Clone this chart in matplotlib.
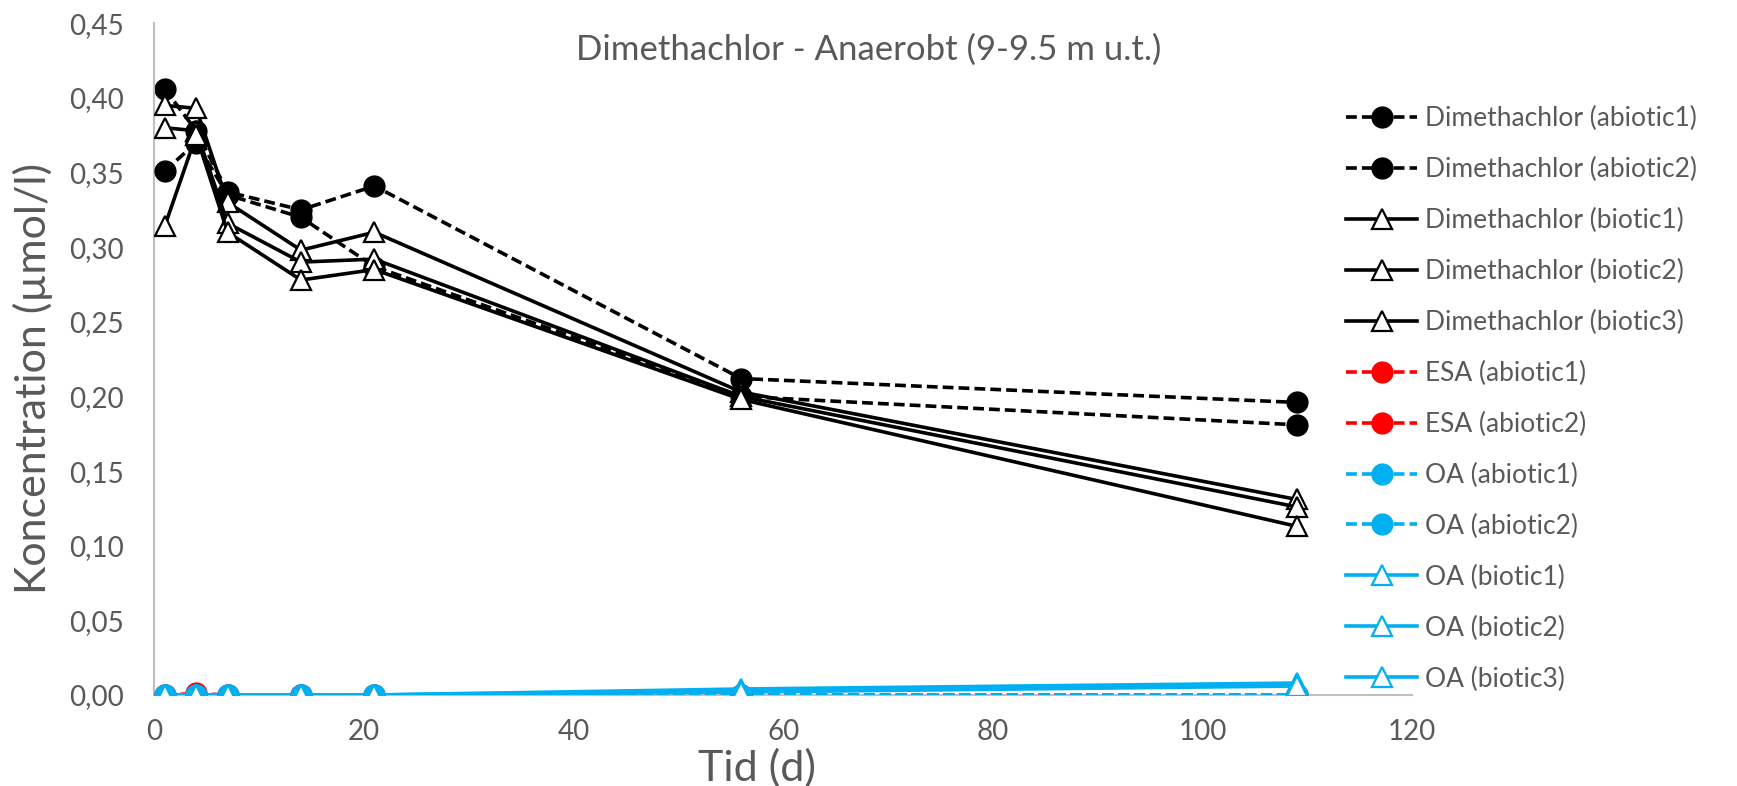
import matplotlib
matplotlib.use("Agg")
import matplotlib.pyplot as plt

# sampling days
days = [1, 4, 7, 14, 21, 56, 109]

# concentrations (umol/l)
dim_abiotic1 = [0.406, 0.378, 0.337, 0.325, 0.341, 0.212, 0.196]
dim_abiotic2 = [0.351, 0.370, 0.335, 0.320, 0.287, 0.200, 0.181]
dim_biotic1 = [0.395, 0.393, 0.330, 0.298, 0.310, 0.203, 0.131]
dim_biotic2 = [0.380, 0.378, 0.316, 0.290, 0.292, 0.200, 0.126]
dim_biotic3 = [0.314, 0.375, 0.310, 0.278, 0.285, 0.198, 0.113]
esa_abiotic1 = [0.0, 0.001, 0.0, 0.0, 0.0, 0.0, 0.0]
esa_abiotic2 = [0.0, 0.0, 0.0, 0.0, 0.0, 0.0, 0.0]
oa_abiotic1 = [0.0, 0.0, 0.0, 0.0, 0.0, 0.0, 0.0]
oa_abiotic2 = [0.0, 0.0, 0.0, 0.0, 0.0, 0.0, 0.0]
oa_biotic1 = [0.0, 0.0, 0.0, 0.0, 0.0, 0.004, 0.008]
oa_biotic2 = [0.0, 0.0, 0.0, 0.0, 0.0, 0.003, 0.007]
oa_biotic3 = [0.0, 0.0, 0.0, 0.0, 0.0, 0.002, 0.006]

series = [
    ("Dimethachlor (abiotic1)", dim_abiotic1, "black", "abiotic"),
    ("Dimethachlor (abiotic2)", dim_abiotic2, "black", "abiotic"),
    ("Dimethachlor (biotic1)", dim_biotic1, "black", "biotic"),
    ("Dimethachlor (biotic2)", dim_biotic2, "black", "biotic"),
    ("Dimethachlor (biotic3)", dim_biotic3, "black", "biotic"),
    ("ESA (abiotic1)", esa_abiotic1, "#FF0000", "abiotic"),
    ("ESA (abiotic2)", esa_abiotic2, "#FF0000", "abiotic"),
    ("OA (abiotic1)", oa_abiotic1, "#00B0F0", "abiotic"),
    ("OA (abiotic2)", oa_abiotic2, "#00B0F0", "abiotic"),
    ("OA (biotic1)", oa_biotic1, "#00B0F0", "biotic"),
    ("OA (biotic2)", oa_biotic2, "#00B0F0", "biotic"),
    ("OA (biotic3)", oa_biotic3, "#00B0F0", "biotic"),
]

plt.rcParams['font.family'] = ['Lato', 'DejaVu Sans']
grey = "#595959"

fig = plt.figure(figsize=(17.37, 7.86), dpi=100)
ax = fig.add_axes([0.0888, 0.1158, 0.7241, 0.8546])

for i, (name, vals, col, kind) in enumerate(series):
    if kind == "abiotic":
        ax.plot(days, vals, color=col, lw=2.6, dashes=(3.0, 1.4),
                marker='o', markersize=15, markerfacecolor=col,
                markeredgecolor=col, label=name, zorder=2 + i)
    else:
        ax.plot(days, vals, color=col, lw=2.6, marker='^', markersize=14,
                markerfacecolor='white', markeredgecolor=col,
                markeredgewidth=1.6, label=name, zorder=2 + i)

ax.set_xlim(0, 120)
ax.set_ylim(0, 0.45)
ax.set_xticks(range(0, 121, 20))
ax.set_yticks([i * 0.05 for i in range(10)])
ax.set_yticklabels([("%.2f" % (i * 0.05)).replace(".", ",") for i in range(10)])
ax.tick_params(length=0, labelsize=20, labelcolor=grey)
ax.tick_params(axis='y', pad=22)
ax.tick_params(axis='x', pad=17)
for side in ['top', 'right']:
    ax.spines[side].set_visible(False)
for side in ['left', 'bottom']:
    ax.spines[side].set_color("#BFBFBF")
    ax.spines[side].set_linewidth(1.5)

fig.text(0.5, 1 - 50 / 786, "Dimethachlor - Anaerobt (9-9.5 m u.t.)",
         ha='center', va='center', fontsize=25, color=grey)
fig.text(757 / 1737, 1 - 768 / 786, "Tid (d)", ha='center', va='center',
         fontsize=31, color=grey)
fig.text(33 / 1737, 1 - 378 / 786, "Koncentration (µmol/l)", ha='center',
         va='center', rotation=90, fontsize=31, color=grey)

leg = ax.legend(loc='upper left', bbox_to_anchor=(1346 / 1737, 1 - 106 / 786),
                bbox_transform=fig.transFigure, frameon=False, fontsize=19,
                numpoints=1, handlelength=2.7, handletextpad=0.3,
                labelspacing=0.98, borderpad=0, borderaxespad=0)
for t in leg.get_texts():
    t.set_color(grey)

fig.savefig("out.png", dpi=100)
